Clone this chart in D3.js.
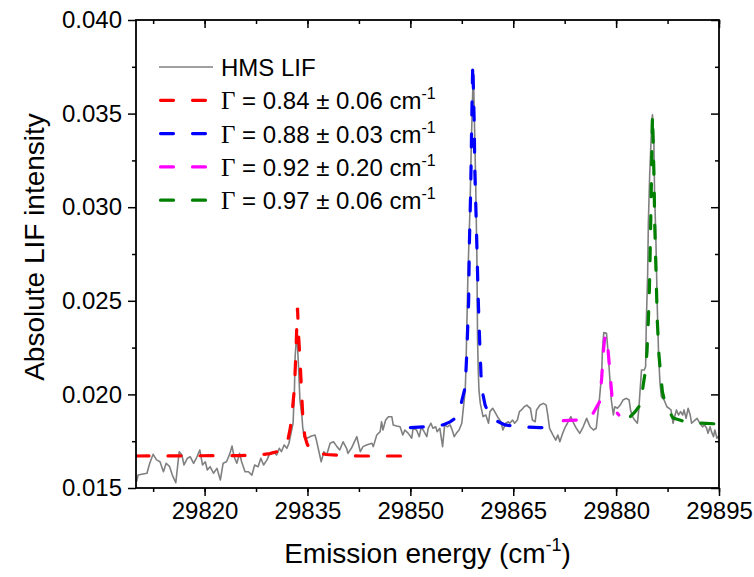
<!DOCTYPE html>
<html><head><meta charset="utf-8">
<script src="https://cdn.jsdelivr.net/npm/d3@7"></script>
<style>body{margin:0;background:#fff}</style>
</head><body><svg id="c" width="754" height="577"></svg>
<script>
// HMS LIF spectrum [emission energy (cm-1), intensity]
const hms = [
[29810.1,0.01534],[29810.3,0.01569],[29811.6,0.01579],[29812.0,0.01632],[29812.5,0.01680],[29813.0,0.01650],
[29813.5,0.01640],[29814.0,0.01587],[29814.4,0.01632],[29814.9,0.01614],[29815.3,0.01569],[29815.8,0.01528],
[29816.3,0.01694],[29816.7,0.01676],[29817.0,0.01623],[29817.5,0.01659],[29817.9,0.01667],[29818.4,0.01632],
[29818.8,0.01659],[29819.3,0.01703],[29819.7,0.01623],[29820.1,0.01640],[29820.4,0.01596],[29820.8,0.01614],
[29821.3,0.01579],[29821.8,0.01605],[29822.3,0.01543],[29822.7,0.01632],[29823.2,0.01640],[29823.7,0.01685],
[29824.0,0.01724],[29824.3,0.01667],[29824.7,0.01632],[29825.1,0.01685],[29825.4,0.01640],[29825.9,0.01587],
[29826.4,0.01587],[29826.9,0.01569],[29827.3,0.01623],[29827.8,0.01614],[29828.2,0.01659],[29828.6,0.01623],
[29829.1,0.01650],[29829.5,0.01685],[29830.0,0.01694],[29830.5,0.01676],[29830.9,0.01712],[29831.2,0.01694],
[29831.6,0.01730],[29832.0,0.01712],[29832.3,0.01739],[29832.9,0.01846],[29833.1,0.02024],[29833.2,0.02201],
[29833.4,0.02308],[29833.5,0.02291],[29833.7,0.02148],[29833.9,0.01970],[29834.2,0.01881],[29834.3,0.01827],
[29834.5,0.01774],[29834.9,0.01766],[29835.6,0.01778],[29836.1,0.01783],[29836.3,0.01756],[29837.0,0.01640],
[29837.4,0.01694],[29837.8,0.01676],[29838.3,0.01739],[29838.8,0.01747],[29839.3,0.01721],[29839.7,0.01703],
[29840.2,0.01747],[29840.7,0.01712],[29840.9,0.01685],[29841.4,0.01712],[29842.2,0.01774],[29842.7,0.01694],
[29843.1,0.01721],[29843.6,0.01730],[29844.4,0.01739],[29844.6,0.01721],[29845.1,0.01783],[29845.6,0.01801],
[29845.8,0.01854],[29846.0,0.01810],[29846.4,0.01863],[29846.8,0.01881],[29847.3,0.01881],[29847.5,0.01837],
[29848.0,0.01831],[29848.5,0.01827],[29848.9,0.01783],[29849.2,0.01810],[29849.7,0.01792],[29850.2,0.01766],
[29850.4,0.01819],[29850.9,0.01810],[29851.3,0.01774],[29851.6,0.01827],[29852.0,0.01801],[29852.4,0.01774],
[29852.6,0.01819],[29853.0,0.01846],[29853.3,0.01819],[29853.7,0.01827],[29853.9,0.01801],[29854.3,0.01819],
[29854.7,0.01721],[29855.0,0.01837],[29855.4,0.01827],[29855.8,0.01837],[29856.1,0.01810],[29856.4,0.01774],
[29856.7,0.01792],[29857.1,0.01810],[29857.5,0.01846],[29857.7,0.01917],[29858.0,0.02024],[29858.1,0.02130],
[29858.4,0.02649],[29858.7,0.03001],[29858.9,0.03359],[29859.1,0.03626],[29859.2,0.03717],[29859.3,0.03537],
[29859.5,0.03183],[29859.7,0.02736],[29859.8,0.02291],[29859.9,0.02130],[29860.0,0.02024],[29860.2,0.01952],
[29860.6,0.01881],[29861.0,0.01890],[29861.4,0.01846],[29861.6,0.01908],[29862.0,0.01926],[29862.3,0.01908],
[29862.7,0.01881],[29863.2,0.01854],[29863.5,0.01810],[29863.9,0.01846],[29864.3,0.01854],[29864.5,0.01846],
[29864.9,0.01863],[29865.2,0.01846],[29865.6,0.01863],[29865.9,0.01908],[29866.2,0.01917],[29866.6,0.01934],
[29867.0,0.01943],[29867.2,0.01934],[29867.5,0.01926],[29867.8,0.01863],[29868.2,0.01854],[29868.4,0.01917],
[29868.9,0.01943],[29869.4,0.01952],[29869.8,0.01943],[29870.0,0.01899],[29870.3,0.01819],[29870.8,0.01783],
[29871.2,0.01756],[29871.5,0.01783],[29871.8,0.01747],[29872.2,0.01792],[29872.6,0.01827],[29872.9,0.01846],
[29873.4,0.01881],[29873.8,0.01846],[29874.2,0.01819],[29874.7,0.01792],[29875.2,0.01827],[29875.7,0.01872],
[29876.2,0.01827],[29876.7,0.01810],[29877.1,0.01819],[29877.4,0.01917],[29877.6,0.01988],[29877.9,0.02113],
[29878.0,0.02237],[29878.2,0.02330],[29878.6,0.02326],[29878.8,0.02237],[29879.1,0.02077],[29879.3,0.01970],
[29879.6,0.01890],[29879.8,0.01934],[29880.2,0.01926],[29880.6,0.01943],[29881.0,0.01970],[29881.5,0.01979],
[29881.9,0.01970],[29882.1,0.01917],[29882.4,0.01881],[29882.7,0.01863],[29883.1,0.01846],[29883.3,0.01917],
[29883.6,0.02077],[29883.7,0.02130],[29884.1,0.02130],[29884.3,0.02148],[29884.4,0.02380],[29884.6,0.02647],
[29884.7,0.02914],[29884.9,0.03181],[29885.1,0.03359],[29885.2,0.03466],[29885.3,0.03493],[29885.5,0.03359],
[29885.6,0.03092],[29885.8,0.02825],[29886.0,0.02469],[29886.2,0.02201],[29886.4,0.02059],[29886.6,0.01988],
[29887.0,0.01970],[29887.4,0.01934],[29887.7,0.01926],[29888.0,0.01917],[29888.3,0.01846],[29888.6,0.01890],
[29888.8,0.01917],[29889.1,0.01890],[29889.4,0.01908],[29889.7,0.01890],[29889.9,0.01917],[29890.2,0.01872],
[29890.5,0.01926],[29890.8,0.01890],[29891.0,0.01846],[29891.5,0.01863],[29891.8,0.01872],[29892.2,0.01846],
[29892.6,0.01827],[29892.9,0.01837],[29893.2,0.01819],[29893.4,0.01792],[29893.7,0.01827],[29893.9,0.01801],
[29894.2,0.01774],[29894.4,0.01810],[29894.7,0.01766],[29895.0,0.01780]
];

// Fit curves
const fitRed = [
[29810,0.01671],[29825.2,0.01673],[29828.1,0.01677],[29829.5,0.01684],[29830.7,0.01695],[29831.6,0.01714],
[29832.2,0.01767],[29832.5,0.01821],[29832.8,0.01917],[29833.1,0.02034],[29833.3,0.02210],[29833.45,0.02371],
[29833.55,0.02462],[29833.7,0.02317],[29833.9,0.02194],[29834.1,0.02045],[29834.3,0.01895],[29834.6,0.01778],
[29834.95,0.01735],[29835.3,0.01711],[29836.1,0.01690],[29837.7,0.01679],[29839.7,0.01674],[29842.7,0.01671],
[29850,0.01671]
];
const fitBlue = [
[29850,0.01823],[29852.9,0.01829],[29854.75,0.01837],[29855.8,0.01853],[29856.6,0.01874],[29857.2,0.01917],
[29857.5,0.01965],[29858.0,0.02040],[29858.25,0.02237],[29858.5,0.02504],[29858.6,0.02798],[29858.8,0.03092],
[29858.95,0.03466],[29859.1,0.03770],[29859.3,0.03466],[29859.4,0.03199],[29859.6,0.02932],[29859.75,0.02718],
[29859.9,0.02504],[29860.1,0.02291],[29860.3,0.02104],[29860.6,0.01997],[29860.9,0.01943],[29861.5,0.01890],
[29862.3,0.01863],[29863.8,0.01837],[29866.0,0.01826],[29868.9,0.01823],[29871.1,0.01821]
];
const fitMagenta = [
[29872.3,0.01860],[29874.6,0.01863],[29875.6,0.01871],[29876.5,0.01890],[29877.0,0.01922],[29877.6,0.01961],
[29877.9,0.02088],[29878.1,0.02210],[29878.3,0.02291],[29878.5,0.02317],[29878.7,0.02285],[29878.9,0.02205],
[29879.2,0.02077],[29879.5,0.01943],[29879.9,0.01911],[29880.4,0.01890]
];
const fitGreen = [
[29882.1,0.01882],[29882.75,0.01906],[29883.6,0.01949],[29883.95,0.02050],[29884.25,0.02120],[29884.5,0.02227],
[29884.7,0.02397],[29884.85,0.02558],[29885.0,0.02825],[29885.15,0.03145],[29885.3,0.03493],[29885.5,0.03199],
[29885.65,0.02878],[29885.85,0.02611],[29886.0,0.02397],[29886.25,0.02210],[29886.5,0.02104],[29886.75,0.02013],
[29887.2,0.01943],[29888.3,0.01874],[29890.5,0.01849],[29893.1,0.01845],[29895,0.01842]
];

const xTicks = [29820,29835,29850,29865,29880,29895];
const yTicks = [0.015,0.020,0.025,0.030,0.035,0.040];
const legendNames = ["HMS LIF","0.84 \u00B1 0.06","0.88 \u00B1 0.03","0.92 \u00B1 0.20","0.97 \u00B1 0.06"];
const seriesColors = ["#808080","#ff0000","#0000ff","#ff00ff","#008000"];

const svg = d3.select("#c");
const L=136, R=719, T=20, B=488;
const x = d3.scaleLinear().domain([29810,29895]).range([L,R]);
const y = d3.scaleLinear().domain([0.015,0.040]).range([B,T]);
const font = "Arial, 'Liberation Sans', sans-serif";

const line = d3.line().x(d=>x(d[0])).y(d=>y(d[1]));
svg.append("defs").append("clipPath").attr("id","pc").append("rect")
  .attr("x",L).attr("y",T).attr("width",R-L).attr("height",B-T);
const g = svg.append("g").attr("clip-path","url(#pc)");
g.append("path").datum(hms).attr("d",line).attr("fill","none")
  .attr("stroke",seriesColors[0]).attr("stroke-width",1.6).attr("stroke-linejoin","round");
[fitRed,fitBlue,fitMagenta,fitGreen].forEach((f,i)=>{
  g.append("path").datum(f).attr("d",line).attr("fill","none")
   .attr("stroke",seriesColors[i+1]).attr("stroke-width",3.2)
   .attr("stroke-dasharray","13,19").attr("stroke-linecap","round");
});

// axes
const minorX = d3.range(29812.5,29895.1,7.5);
const minorY = d3.range(0.0175,0.040,0.005);
const fmtY = d3.format(".3f");
const ax = svg.append("g");
ax.append("g").attr("transform",`translate(0,${B})`)
  .call(d3.axisBottom(x).tickValues(xTicks).tickSize(8).tickPadding(6).tickFormat(d3.format("d")));
ax.append("g").attr("transform",`translate(0,${B})`)
  .call(d3.axisBottom(x).tickValues(minorX).tickSize(4).tickFormat(""));
ax.append("g").attr("transform",`translate(0,${T})`)
  .call(d3.axisBottom(x).tickValues(xTicks).tickSize(8).tickFormat(""));
ax.append("g").attr("transform",`translate(0,${T})`)
  .call(d3.axisBottom(x).tickValues(minorX).tickSize(4).tickFormat(""));
ax.append("g").attr("transform",`translate(${L},0)`)
  .call(d3.axisLeft(y).tickValues(yTicks).tickSize(8).tickPadding(6).tickFormat(fmtY));
ax.append("g").attr("transform",`translate(${L},0)`)
  .call(d3.axisLeft(y).tickValues(minorY).tickSize(4).tickFormat(""));
ax.append("g").attr("transform",`translate(${R},0)`)
  .call(d3.axisLeft(y).tickValues(yTicks).tickSize(8).tickFormat(""));
ax.append("g").attr("transform",`translate(${R},0)`)
  .call(d3.axisLeft(y).tickValues(minorY).tickSize(4).tickFormat(""));
ax.selectAll(".domain").remove();
ax.selectAll("line").attr("stroke","#000").attr("stroke-width",1.5);
ax.selectAll("text").attr("font-family",font).attr("font-size",24).attr("fill","#000");
svg.append("rect").attr("x",L).attr("y",T).attr("width",R-L).attr("height",B-T)
  .attr("fill","none").attr("stroke","#000").attr("stroke-width",1.8);

// axis titles
const xt = svg.append("text").attr("x",(L+R)/2).attr("y",563).attr("text-anchor","middle")
  .attr("font-family",font).attr("font-size",28);
xt.append("tspan").text("Emission energy (cm");
xt.append("tspan").attr("dy",-12).attr("font-size",18).text("-1");
xt.append("tspan").attr("dy",12).text(")");
svg.append("text").attr("transform",`translate(44,247) rotate(-90)`)
  .attr("text-anchor","middle").attr("font-family",font).attr("font-size",28)
  .text("Absolute LIF intensity");

// legend
const lg = svg.append("g");
const rowY0 = 67, rowH = 33.3;
legendNames.forEach((name,i)=>{
  const yy = rowY0 + i*rowH;
  const ln = lg.append("line").attr("x1",159).attr("x2",213).attr("y1",yy).attr("y2",yy)
    .attr("stroke",seriesColors[i]);
  if(i===0){ ln.attr("stroke-width",1.6); }
  else { ln.attr("x1",160.5).attr("x2",206).attr("stroke-width",3.2).attr("stroke-dasharray","13,19").attr("stroke-linecap","round"); }
  const t = lg.append("text").attr("x",221).attr("y",yy+9).attr("font-family",font).attr("font-size",24);
  if(i===0){ t.text(name); }
  else {
    t.append("tspan").attr("font-family","'Liberation Serif','Times New Roman',serif").attr("font-size",25).text("\u0393");
    t.append("tspan").text(" = " + name + " cm");
    t.append("tspan").attr("dy",-10).attr("font-size",16).text("-1");
  }
});
</script></body></html>
